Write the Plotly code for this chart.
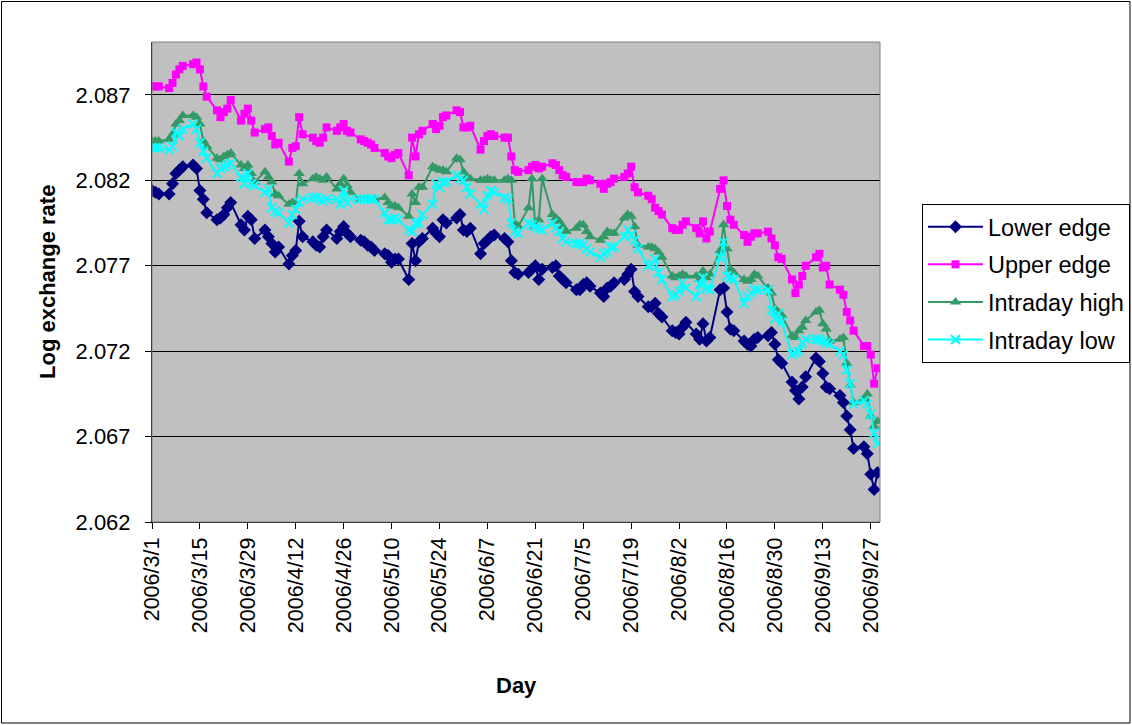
import plotly.graph_objects as go

# ---- categories: trading days (weekdays) per month, 2006 ----
month_days = {
    3: [1, 2, 3, 6, 7, 8, 9, 10, 13, 14, 15, 16, 17, 20, 21, 22, 23, 24, 27, 28, 29, 30, 31],
    4: [3, 4, 5, 6, 7, 10, 11, 12, 13, 14, 17, 18, 19, 20, 21, 24, 25, 26, 27, 28],
    5: [1, 2, 3, 4, 5, 8, 9, 10, 11, 12, 15, 16, 17, 18, 19, 22, 23, 24, 25, 26, 29, 30, 31],
    6: [1, 2, 5, 6, 7, 8, 9, 12, 13, 14, 15, 16, 19, 20, 21, 22, 23, 26, 27, 28, 29, 30],
    7: [3, 4, 5, 6, 7, 10, 11, 12, 13, 14, 17, 18, 19, 20, 21, 24, 25, 26, 27, 28, 31],
    8: [1, 2, 3, 4, 7, 8, 9, 10, 11, 14, 15, 16, 17, 18, 21, 22, 23, 24, 25, 28, 29, 30, 31],
    9: [1, 4, 5, 6, 7, 8, 11, 12, 13, 14, 15, 18, 19, 20, 21, 22, 25, 26, 27, 28, 29],
}
dates = [f"2006-{m:02d}-{d:02d}" for m, ds in month_days.items() for d in ds]

# ---- series values ----
lower_edge = [
    2.0814, 2.0813, 2.0812, 2.0812, 2.0818, 2.0824, 2.0826, 2.0828, 2.0829, 2.0827, 2.0814, 2.0809, 2.0801, 2.0797, 2.0798, 2.0800, 2.0804, 2.0807, 2.0794, 2.0791, 2.0799, 2.0797, 2.0786,
    2.0791, 2.0787, 2.0783, 2.0778, 2.0781, 2.0771, 2.0776, 2.0779, 2.0796, 2.0787, 2.0784, 2.0782, 2.0781, 2.0787, 2.0791, 2.0786, 2.0790, 2.0793, 2.0789, 2.0787,
    2.0785, 2.0784, 2.0782, 2.0781, 2.0779, 2.0777, 2.0776, 2.0772, 2.0774, 2.0774, 2.0762, 2.0783, 2.0773, 2.0784, 2.0786, 2.0792, 2.0789, 2.0787, 2.0797, 2.0795, 2.0798, 2.0800, 2.0791,
    2.0790, 2.0792, 2.0777, 2.0783, 2.0785, 2.0787, 2.0788, 2.0786, 2.0784, 2.0773, 2.0766, 2.0765, 2.0766, 2.0768, 2.0770, 2.0762, 2.0768, 2.0769, 2.0770, 2.0764, 2.0762, 2.0760,
    2.0756, 2.0756, 2.0759, 2.0760, 2.0758, 2.0754, 2.0752, 2.0757, 2.0758, 2.0760, 2.0762, 2.0765, 2.0768, 2.0755, 2.0752, 2.0746, 2.0746, 2.0748, 2.0742, 2.0740, 2.0732,
    2.0731, 2.0730, 2.0734, 2.0737, 2.0730, 2.0727, 2.0736, 2.0726, 2.0728, 2.0756, 2.0757, 2.0743, 2.0733, 2.0732, 2.0726, 2.0724, 2.0723, 2.0727, 2.0728, 2.0729, 2.0731, 2.0724, 2.0715,
    2.0713, 2.0702, 2.0697, 2.0692, 2.0699, 2.0705, 2.0716, 2.0714, 2.0707, 2.0699, 2.0698, 2.0694, 2.0690, 2.0682, 2.0674, 2.0663, 2.0664, 2.0660, 2.0648, 2.0639, 2.0649,
]
upper_edge = [
    2.0875, 2.0875, 2.0875, 2.0874, 2.0877, 2.0882, 2.0885, 2.0887, 2.0888, 2.0889, 2.0885, 2.0875, 2.0869, 2.0861, 2.0857, 2.0860, 2.0862, 2.0867, 2.0855, 2.0859, 2.0862, 2.0855, 2.0848,
    2.0850, 2.0851, 2.0846, 2.0841, 2.0842, 2.0831, 2.0839, 2.0840, 2.0857, 2.0847, 2.0845, 2.0843, 2.0842, 2.0845, 2.0851, 2.0849, 2.0851, 2.0853, 2.0849, 2.0848,
    2.0844, 2.0843, 2.0842, 2.0841, 2.0839, 2.0836, 2.0834, 2.0833, 2.0835, 2.0836, 2.0823, 2.0845, 2.0834, 2.0847, 2.0849, 2.0853, 2.0850, 2.0852, 2.0857, 2.0858, 2.0861, 2.0860, 2.0851,
    2.0851, 2.0852, 2.0838, 2.0843, 2.0846, 2.0847, 2.0846, 2.0845, 2.0845, 2.0834, 2.0826, 2.0825, 2.0826, 2.0828, 2.0829, 2.0827, 2.0828, 2.0830, 2.0829, 2.0826, 2.0823, 2.0822,
    2.0819, 2.0819, 2.0819, 2.0821, 2.0820, 2.0818, 2.0815, 2.0818, 2.0819, 2.0821, 2.0822, 2.0824, 2.0828, 2.0816, 2.0813, 2.0811, 2.0809, 2.0804, 2.0802, 2.0800, 2.0792,
    2.0791, 2.0791, 2.0794, 2.0796, 2.0792, 2.0789, 2.0796, 2.0786, 2.0790, 2.0815, 2.0820, 2.0805, 2.0797, 2.0794, 2.0788, 2.0784, 2.0787, 2.0789, 2.0789, 2.0790, 2.0786, 2.0782, 2.0775,
    2.0774, 2.0762, 2.0754, 2.0759, 2.0764, 2.0770, 2.0775, 2.0777, 2.0769, 2.0770, 2.0759, 2.0756, 2.0753, 2.0743, 2.0738, 2.0732, 2.0723, 2.0723, 2.0718, 2.0701, 2.0710,
]
intraday_high = [
    2.0843, 2.0843, 2.0843, 2.0844, 2.0847, 2.0853, 2.0855, 2.0858, 2.0858, 2.0857, 2.0853, 2.0843, 2.0840, 2.0833, 2.0832, 2.0834, 2.0835, 2.0836, 2.0829, 2.0827, 2.0829, 2.0824, 2.0819,
    2.0825, 2.0822, 2.0819, 2.0812, 2.0811, 2.0806, 2.0807, 2.0807, 2.0824, 2.0818, 2.0821, 2.0822, 2.0821, 2.0820, 2.0822, 2.0815, 2.0818, 2.0821, 2.0817, 2.0813,
    2.0809, 2.0809, 2.0809, 2.0809, 2.0809, 2.0810, 2.0807, 2.0805, 2.0805, 2.0804, 2.0799, 2.0812, 2.0807, 2.0816, 2.0816, 2.0828, 2.0827, 2.0826, 2.0826, 2.0825, 2.0833, 2.0832, 2.0825,
    2.0822, 2.0821, 2.0820, 2.0820, 2.0821, 2.0820, 2.0820, 2.0820, 2.0821, 2.0820, 2.0795, 2.0793, 2.0804, 2.0821, 2.0793, 2.0797, 2.0821, 2.0800, 2.0798, 2.0796, 2.0793, 2.0790,
    2.0792, 2.0794, 2.0794, 2.0790, 2.0787, 2.0785, 2.0787, 2.0790, 2.0789, 2.0789, 2.0798, 2.0800, 2.0799, 2.0793, 2.0782, 2.0781, 2.0781, 2.0780, 2.0778, 2.0775, 2.0764,
    2.0763, 2.0764, 2.0765, 2.0764, 2.0764, 2.0762, 2.0767, 2.0763, 2.0765, 2.0779, 2.0794, 2.0780, 2.0768, 2.0766, 2.0762, 2.0761, 2.0762, 2.0765, 2.0764, 2.0757, 2.0754, 2.0745, 2.0743,
    2.0741, 2.0729, 2.0728, 2.0732, 2.0734, 2.0738, 2.0743, 2.0744, 2.0736, 2.0733, 2.0726, 2.0727, 2.0728, 2.0713, 2.0700, 2.0690, 2.0692, 2.0695, 2.0682, 2.0676, 2.0679,
]
intraday_low = [
    2.0839, 2.0839, 2.0839, 2.0838, 2.0840, 2.0848, 2.0846, 2.0850, 2.0853, 2.0850, 2.0842, 2.0837, 2.0833, 2.0824, 2.0827, 2.0828, 2.0829, 2.0830, 2.0822, 2.0818, 2.0824, 2.0818, 2.0817,
    2.0813, 2.0815, 2.0804, 2.0802, 2.0801, 2.0795, 2.0800, 2.0803, 2.0807, 2.0809, 2.0810, 2.0810, 2.0809, 2.0808, 2.0809, 2.0809, 2.0806, 2.0814, 2.0807, 2.0809,
    2.0809, 2.0809, 2.0809, 2.0809, 2.0809, 2.0801, 2.0797, 2.0797, 2.0798, 2.0797, 2.0791, 2.0790, 2.0795, 2.0795, 2.0800, 2.0806, 2.0818, 2.0816, 2.0819, 2.0819, 2.0823, 2.0821, 2.0820,
    2.0816, 2.0812, 2.0806, 2.0803, 2.0811, 2.0814, 2.0813, 2.0810, 2.0809, 2.0795, 2.0790, 2.0789, 2.0795, 2.0794, 2.0793, 2.0792, 2.0791, 2.0795, 2.0792, 2.0790, 2.0786, 2.0784,
    2.0783, 2.0783, 2.0782, 2.0780, 2.0778, 2.0775, 2.0777, 2.0778, 2.0781, 2.0781, 2.0787, 2.0791, 2.0788, 2.0785, 2.0780, 2.0770, 2.0771, 2.0774, 2.0766, 2.0762, 2.0752,
    2.0753, 2.0755, 2.0760, 2.0757, 2.0752, 2.0759, 2.0763, 2.0757, 2.0756, 2.0775, 2.0784, 2.0764, 2.0763, 2.0762, 2.0748, 2.0752, 2.0754, 2.0756, 2.0756, 2.0756, 2.0744, 2.0739, 2.0742,
    2.0737, 2.0718, 2.0719, 2.0720, 2.0725, 2.0727, 2.0727, 2.0727, 2.0726, 2.0725, 2.0724, 2.0720, 2.0718, 2.0709, 2.0701, 2.0689, 2.0691, 2.0689, 2.0683, 2.0672, 2.0666,
]

# ---- tick labels ----
x_tick_dates = ["2006-03-01", "2006-03-15", "2006-03-29", "2006-04-12", "2006-04-26", "2006-05-10",
                "2006-05-24", "2006-06-07", "2006-06-21", "2006-07-05", "2006-07-19", "2006-08-02",
                "2006-08-16", "2006-08-30", "2006-09-13", "2006-09-27"]
x_tick_labels = ["2006/3/1", "2006/3/15", "2006/3/29", "2006/4/12", "2006/4/26", "2006/5/10",
                 "2006/5/24", "2006/6/7", "2006/6/21", "2006/7/5", "2006/7/19", "2006/8/2",
                 "2006/8/16", "2006/8/30", "2006/9/13", "2006/9/27"]
y_ticks = [2.062, 2.067, 2.072, 2.077, 2.082, 2.087]
y_tick_labels = ["2.062", "2.067", "2.072", "2.077", "2.082", "2.087"]

FONT = "Liberation Sans, Arial, sans-serif"

series = [
    ("Lower edge", lower_edge, "#000080", dict(symbol="diamond", size=10, color="#000080")),
    ("Upper edge", upper_edge, "#FF00FF", dict(symbol="square", size=8, color="#FF00FF")),
    ("Intraday high", intraday_high, "#339966", dict(symbol="triangle-up", size=10, color="#339966")),
    ("Intraday low", intraday_low, "#00FFFF", dict(symbol="x-thin", size=9, color="#00FFFF",
                                                     line=dict(color="#00FFFF", width=2))),
]

fig = go.Figure()
for i, (name, vals, col, mk) in enumerate(series):
    fig.add_trace(go.Scatter(
        x=dates, y=vals, name=name, mode="lines+markers",
        line=dict(color=col, width=2), marker=mk, legendgroup=f"g{i}",
    ))

L, R, T, B = 152, 252, 42, 203
W, H = 1132, 725
pw, ph = W - L - R, H - T - B

fig.update_layout(
    width=W, height=H, autosize=False,
    margin=dict(l=L, r=R, t=T, b=B, pad=0, autoexpand=False),
    paper_bgcolor="white", plot_bgcolor="#C0C0C0",
    font=dict(family=FONT, size=22, color="black"),
    showlegend=True,
    legend=dict(
        x=(922 - L) / pw, y=(H - B - 204) / ph, xanchor="left", yanchor="top",
        bordercolor="black", borderwidth=1, bgcolor="white",
        font=dict(family=FONT, size=23.5, color="black"),
        tracegroupgap=4, itemwidth=55,
    ),
    xaxis=dict(
        type="date", range=["2006-03-01", "2006-09-29 17:00"],
        tickmode="array", tickvals=x_tick_dates, ticktext=x_tick_labels,
        tickangle=-90, ticks="outside", ticklen=6, tickcolor="black",
        showline=True, linecolor="black", linewidth=1,
        showgrid=False, zeroline=False,
        tickfont=dict(family=FONT, size=21.5, color="black"),
    ),
    yaxis=dict(
        range=[2.062, 2.0901],
        tickmode="array", tickvals=y_ticks, ticktext=y_tick_labels,
        ticks="outside", ticklen=6, tickcolor="black",
        showline=True, linecolor="black", linewidth=1,
        showgrid=True, gridcolor="black", gridwidth=1, zeroline=False,
        tickfont=dict(family=FONT, size=22, color="black"),
        ticklabelstandoff=10,
    ),
    shapes=[
        dict(type="rect", xref="paper", yref="paper", x0=0, x1=1, y0=0, y1=1,
             line=dict(color="#808080", width=1), layer="above"),
        dict(type="rect", xref="paper", yref="paper",
             x0=(1.5 - L) / pw, x1=(W - 2 - L) / pw,
             y0=(H - B - (H - 2)) / ph, y1=(H - B - 1.5) / ph,
             line=dict(color="black", width=1), layer="above"),
    ],
    annotations=[
        dict(text="<b>Log exchange rate</b>", xref="paper", yref="paper",
             x=(47 - L) / pw, y=0.5, textangle=-90, showarrow=False,
             xanchor="center", yanchor="middle",
             font=dict(family=FONT, size=22, color="black")),
        dict(text="<b>Day</b>", xref="paper", yref="paper",
             x=(516 - L) / pw, y=(H - B - 685) / ph, showarrow=False,
             xanchor="center", yanchor="middle",
             font=dict(family=FONT, size=22, color="black")),
    ],
)

fig.write_html(
    "out.html", config={"displayModeBar": False},
    post_script=("document.body.style.margin='0';"
                 "document.body.style.overflow='hidden';"
                 "document.documentElement.style.overflow='hidden';"),
)
